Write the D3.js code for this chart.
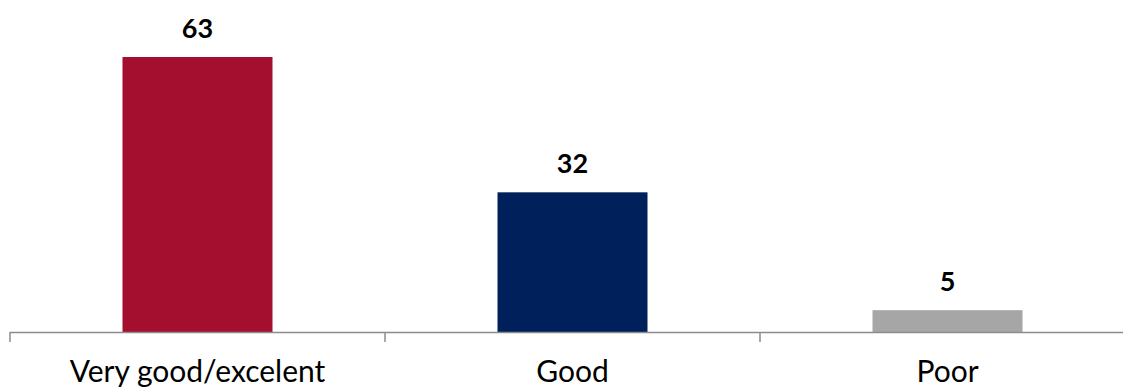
<!DOCTYPE html>
<html>
<head>
<meta charset="utf-8">
<script src="https://cdn.jsdelivr.net/npm/d3@7"></script>
<style>
  html, body { margin: 0; padding: 0; background: #fff; }
  svg { display: block; }
  text { font-family: "Lato", "Open Sans", sans-serif; }
</style>
</head>
<body>
<svg id="chart" width="1123" height="387"></svg>
<script>
// Survey ratings
const categories = ["Very good/excelent", "Good", "Poor"];
const values = [63, 32, 5];
const colors = ["#a50f2f", "#00205b", "#a6a6a6"];

const svg = d3.select("#chart");
const margin = { left: 10, right: -12, top: 0, bottom: 55 };
const width = 1123, height = 387;
const baseY = 332;

const x = d3.scaleBand()
  .domain(categories)
  .range([margin.left, width - margin.right])
  .paddingInner(0.6)
  .paddingOuter(0.3);

const y = d3.scaleLinear()
  .domain([0, 63])
  .range([baseY, 57]);

// bars
svg.selectAll("rect.bar")
  .data(values)
  .join("rect")
  .attr("class", "bar")
  .attr("x", (d, i) => x(categories[i]))
  .attr("y", d => y(d))
  .attr("width", x.bandwidth())
  .attr("height", d => y(0) - y(d))
  .attr("fill", (d, i) => colors[i]);

// category axis: line with tick marks between categories
const axisG = svg.append("g");
axisG.append("line")
  .attr("x1", margin.left).attr("x2", width)
  .attr("y1", baseY + 0.5).attr("y2", baseY + 0.5)
  .attr("stroke", "#8c8c8c").attr("stroke-width", 1.5);
const tickXs = d3.range(categories.length + 1).map(i => margin.left + i * (width - margin.right - margin.left) / categories.length);
axisG.selectAll("line.tick")
  .data(tickXs)
  .join("line")
  .attr("class", "tick")
  .attr("x1", d => d).attr("x2", d => d)
  .attr("y1", baseY).attr("y2", baseY + 10)
  .attr("stroke", "#8c8c8c").attr("stroke-width", 1.5);

// category labels
svg.selectAll("text.cat")
  .data(categories)
  .join("text")
  .attr("class", "cat")
  .attr("x", d => x(d) + x.bandwidth() / 2)
  .attr("y", 382)
  .attr("text-anchor", "middle")
  .attr("font-size", 30)
  .attr("fill", "#000")
  .text(d => d);

// value labels
svg.selectAll("text.val")
  .data(values)
  .join("text")
  .attr("class", "val")
  .attr("x", (d, i) => x(categories[i]) + x.bandwidth() / 2)
  .attr("y", d => y(d) - 19)
  .attr("text-anchor", "middle")
  .attr("font-size", 27)
  .attr("font-weight", "bold")
  .attr("fill", "#000")
  .text(d => d);
</script>
</body>
</html>
